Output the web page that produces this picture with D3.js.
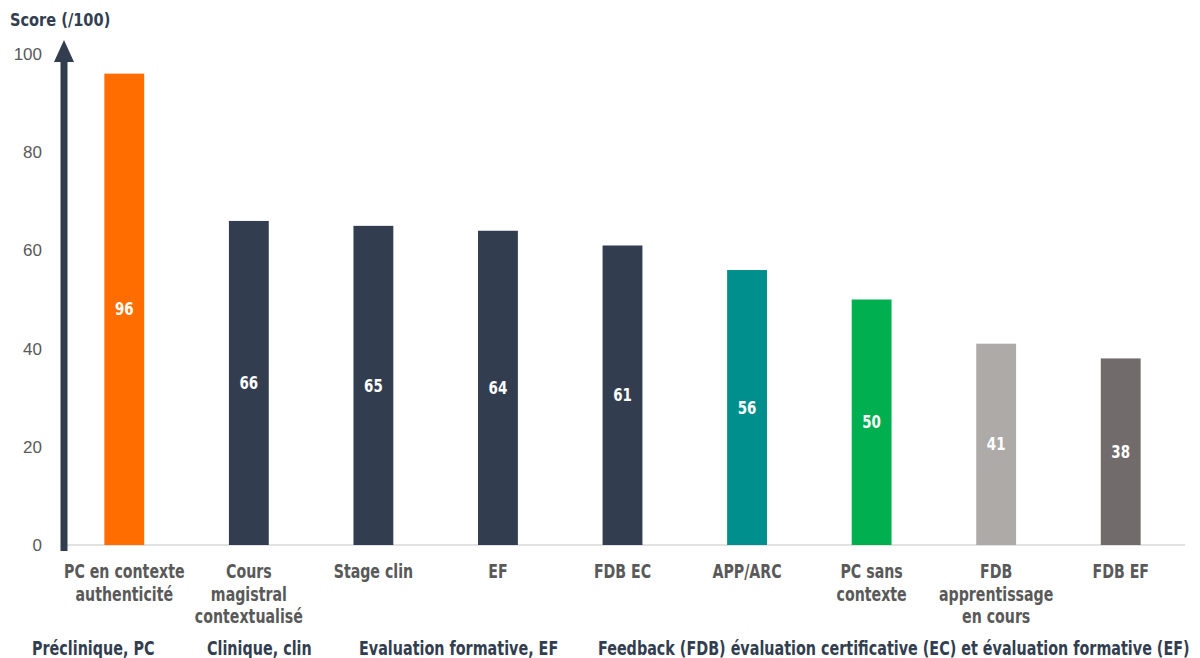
<!DOCTYPE html>
<html>
<head>
<meta charset="utf-8">
<script src="https://cdn.jsdelivr.net/npm/d3@7"></script>
<style>
  html, body { margin: 0; padding: 0; background: #ffffff; }
  svg { display: block; }
  .cond { font-family: "Liberation Sans Narrow", "DejaVu Sans Condensed", "Arial Narrow", sans-serif; font-weight: bold; }
</style>
</head>
<body>
<svg id="chart" width="1200" height="658"></svg>
<script>
// Scores per teaching modality
const categories = [
  "PC en contexte authenticité",
  "Cours magistral contextualisé",
  "Stage clin",
  "EF",
  "FDB EC",
  "APP/ARC",
  "PC sans contexte",
  "FDB apprentissage en cours",
  "FDB EF"
];
// Wrapped category label lines
const categoryLines = [
  ["PC en contexte", "authenticité"],
  ["Cours", "magistral", "contextualisé"],
  ["Stage clin"],
  ["EF"],
  ["FDB EC"],
  ["APP/ARC"],
  ["PC sans", "contexte"],
  ["FDB", "apprentissage", "en cours"],
  ["FDB EF"]
];
const scores = [96, 66, 65, 64, 61, 56, 50, 41, 38];
const barColors = ["#FF6D00", "#323E4F", "#323E4F", "#323E4F", "#323E4F", "#008F8C", "#00B050", "#ADAAA8", "#716B6B"];
const yTicks = [0, 20, 40, 60, 80, 100];
const axisTitle = "Score (/100)";
// Abbreviation key along the bottom
const legendItems = [
  "Préclinique, PC",
  "Clinique, clin",
  "Evaluation formative, EF",
  "Feedback (FDB) évaluation certificative (EC) et évaluation formative (EF)"
];

const svg = d3.select("#chart");
const margin = { left: 62, right: 17, top: 54, bottom: 113 };
const W = 1200, H = 658;

// Squeeze bold text horizontally to get a condensed face:
// the text's x/y move into a transform with a horizontal scale.
function condense(sel, factor) {
  sel.each(function () {
    const t = d3.select(this);
    const tx = +t.attr("x") || 0, ty = +t.attr("y") || 0;
    t.attr("x", 0).attr("y", 0)
      .attr("transform", `translate(${tx},${ty}) scale(${factor},1)`);
  });
}

const x = d3.scaleBand()
  .domain(categories)
  .range([margin.left, W - margin.right])
  .paddingInner(0.68)
  .paddingOuter(0.34);

const y = d3.scaleLinear()
  .domain([0, 100])
  .range([H - margin.bottom, margin.top]);

// Baseline
svg.append("line")
  .attr("x1", margin.left).attr("x2", W - margin.right + 2)
  .attr("y1", y(0)).attr("y2", y(0))
  .attr("stroke", "#d9d9d9").attr("stroke-width", 1.5);

// Y tick labels
const yAxis = d3.axisLeft(y).tickValues(yTicks).tickSize(0).tickPadding(0);
const gy = svg.append("g")
  .attr("transform", `translate(${margin.left - 20},0)`)
  .call(yAxis);
gy.select(".domain").remove();
gy.selectAll("text")
  .attr("font-family", "Liberation Sans, Arial, sans-serif")
  .attr("font-size", 17)
  .attr("fill", "#595959");

// Bars
svg.append("g").selectAll("rect")
  .data(scores)
  .join("rect")
  .attr("x", (d, i) => x(categories[i]))
  .attr("width", x.bandwidth())
  .attr("y", d => y(d))
  .attr("height", d => y(0) - y(d))
  .attr("fill", (d, i) => barColors[i]);

// Value labels centred in each bar
svg.append("g").selectAll("text")
  .data(scores)
  .join("text")
  .attr("class", "cond")
  .attr("x", (d, i) => x(categories[i]) + x.bandwidth() / 2)
  .attr("y", d => (y(d) + y(0)) / 2)
  .attr("dy", "0.36em")
  .attr("text-anchor", "middle")
  .attr("font-size", 17)
  .attr("fill", "#ffffff")
  .text(d => d)
  .call(condense, 0.88);

// Vertical arrow axis
const axisX = margin.left + 2;
svg.append("line")
  .attr("x1", axisX).attr("x2", axisX)
  .attr("y1", y(0) + 6).attr("y2", y(100) + 4)
  .attr("stroke", "#323E4F").attr("stroke-width", 7);
svg.append("path")
  .attr("d", `M${axisX - 10},${y(100) + 8} L${axisX},${y(100) - 14} L${axisX + 10},${y(100) + 8} Z`)
  .attr("fill", "#323E4F");

// Axis title
svg.append("text")
  .attr("class", "cond")
  .attr("x", 10).attr("y", 26)
  .attr("font-size", 18)
  .attr("fill", "#323E4F")
  .text(axisTitle)
  .call(condense, 0.9);

// Category labels, one text per line
const catLines = categoryLines.flatMap((lines, i) =>
  lines.map((t, j) => ({ t, j, cx: x(categories[i]) + x.bandwidth() / 2 })));
svg.append("g").selectAll("text")
  .data(catLines)
  .join("text")
  .attr("class", "cond")
  .attr("text-anchor", "middle")
  .attr("font-size", 19)
  .attr("fill", "#595959")
  .attr("x", d => d.cx)
  .attr("y", d => y(0) + 33 + d.j * 22.5)
  .text(d => d.t)
  .call(condense, 0.83);

// Abbreviation key
const legendX = [32, 207, 359, 598];
svg.append("g").selectAll("text")
  .data(legendItems)
  .join("text")
  .attr("class", "cond")
  .attr("x", (d, i) => legendX[i])
  .attr("y", 655)
  .attr("font-size", 19)
  .attr("fill", "#323E4F")
  .text(d => d)
  .call(condense, 0.84);
</script>
</body>
</html>
